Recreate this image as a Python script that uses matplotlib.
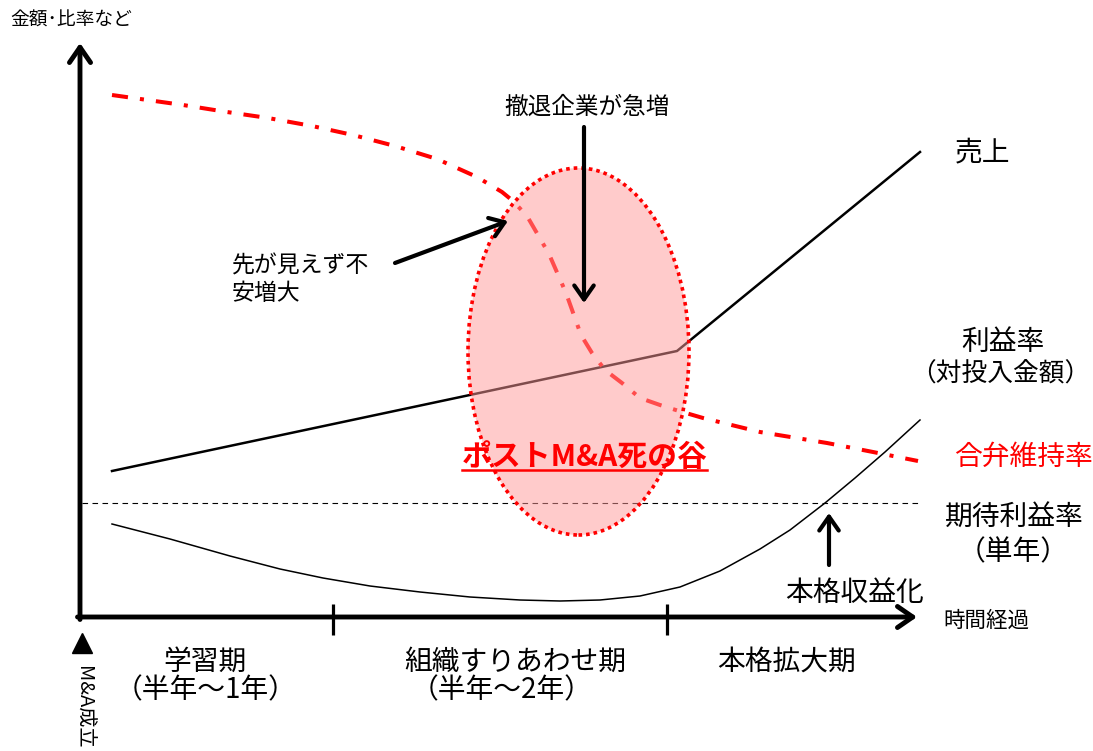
import numpy as np
import matplotlib
matplotlib.use('Agg')
import matplotlib.pyplot as plt
from matplotlib.patches import Ellipse

plt.rcParams['font.family'] = ['Noto Sans CJK JP', 'DejaVu Sans']

# 時間軸: 0 = M&A成立, 各曲線の値は概念的な大きさ
sales_x = [0.32, 5.97, 8.40]
sales_y = [1.46, 2.66, 4.65]

retention_x = [0.32, 1.03, 1.47, 1.88, 2.32, 2.73, 3.15, 3.57, 3.97, 4.22, 4.33, 4.47, 4.69,
               4.86, 5.01, 5.12, 5.25, 5.42, 5.60, 5.80, 5.99, 6.23, 6.80, 7.47, 7.93, 8.38]
retention_y = [5.22, 5.12, 5.05, 4.99, 4.91, 4.82, 4.71, 4.58, 4.40, 4.25, 4.16, 4.01, 3.63,
               3.24, 2.82, 2.64, 2.47, 2.34, 2.19, 2.12, 2.06, 1.99, 1.85, 1.74, 1.65, 1.56]

profit_x = [0.32, 0.90, 1.50, 2.00, 2.43, 2.90, 3.40, 3.90, 4.40, 4.80, 5.20, 5.60, 6.00,
            6.40, 6.80, 7.10, 7.45, 7.75, 8.05, 8.40]
profit_y = [0.93, 0.78, 0.61, 0.48, 0.39, 0.31, 0.25, 0.20, 0.17, 0.16, 0.17, 0.21, 0.30,
            0.46, 0.68, 0.87, 1.14, 1.39, 1.65, 1.97]

expected_rate = 1.14
expected_x = [0.02, 8.38]

period_bounds = [2.53, 5.87]
period_names = ['学習期', '組織すりあわせ期', '本格拡大期']
period_spans = ['（半年～1年）', '（半年～2年）', '']
period_centers = [1.25, 4.35, 7.07]
span_centers = [1.26, 4.22, 7.07]

valley_center = (4.985, 2.655)
valley_size = (2.21, 3.67)

fig = plt.figure(figsize=(10.93, 7.51), dpi=100)
ax = fig.add_axes([0, 0, 1, 1])
ax.set_xlim(-0.80, 10.13)
ax.set_ylim(-1.34, 6.17)
ax.axis('off')

# 軸（矢印）
axis_arrow = dict(arrowstyle='->,head_length=0.55,head_width=0.38', lw=3.5,
                  color='black', shrinkA=0, shrinkB=0, mutation_scale=20)
ax.annotate('', xy=(0, 5.74), xytext=(0, -0.025), arrowprops=axis_arrow)
ax.annotate('', xy=(8.37, 0), xytext=(-0.025, 0), arrowprops=axis_arrow)
for b in period_bounds:
    ax.plot([b, b], [0.13, -0.18], color='black', lw=2.3, solid_capstyle='butt')

# 曲線
ax.plot(sales_x, sales_y, color='black', lw=1.8, zorder=2)
ax.plot(retention_x, retention_y, color='red', lw=2.9,
        linestyle=(0, (4, 3, 1, 3)), zorder=2)
ax.plot(profit_x, profit_y, color='black', lw=1.1, zorder=2)
ax.plot(expected_x, [expected_rate, expected_rate], color='black', lw=0.8,
        linestyle=(0, (5, 4)), zorder=2)

# 死の谷
ax.add_patch(Ellipse(valley_center, valley_size[0], valley_size[1],
                     facecolor='#ff9999', alpha=0.5, edgecolor='none', zorder=3))
ax.add_patch(Ellipse(valley_center, valley_size[0], valley_size[1],
                     facecolor='none', edgecolor='red', lw=2.6,
                     linestyle=(0, (1, 1.1)), zorder=4))

# 注釈の矢印
note_arrow = dict(arrowstyle='->,head_length=0.5,head_width=0.35', lw=3,
                  color='black', shrinkA=0, shrinkB=0, mutation_scale=20)
ax.annotate('', xy=(4.28, 3.96), xytext=(3.15, 3.54), arrowprops=note_arrow, zorder=5)
ax.annotate('', xy=(5.04, 3.14), xytext=(5.04, 4.90), arrowprops=note_arrow, zorder=5)
ax.annotate('', xy=(7.49, 1.04), xytext=(7.49, 0.52), arrowprops=note_arrow, zorder=5)

# M&A成立
ax.plot([0.02], [-0.26], marker='^', markersize=15, color='black', clip_on=False)
ax.text(0.03, -0.49, 'M&A成立', rotation=-90, ha='center', va='top', fontsize=14.5)

# テキスト
big = 20
ax.text(-0.70, 5.97, '金額･比率など', ha='left', va='center', fontsize=13.5)
ax.text(8.63, -0.04, '時間経過', ha='left', va='center', fontsize=15.5)
ax.text(8.75, 4.65, '売上', ha='left', va='center', fontsize=big)
ax.text(9.23, 2.75, '利益率', ha='center', va='center', fontsize=big)
ax.text(9.20, 2.42, '（対投入金額）', ha='center', va='center', fontsize=18.5)
ax.text(9.435, 1.60, '合弁維持率', ha='center', va='center', fontsize=big, color='red')
ax.text(9.34, 0.99, '期待利益率', ha='center', va='center', fontsize=big)
ax.text(9.335, 0.65, '（単年）', ha='center', va='center', fontsize=big)
ax.text(7.75, 0.24, '本格収益化', ha='center', va='center', fontsize=big)
ax.text(1.52, 3.37, '先が見えず不\n安増大', ha='left', va='center', fontsize=16.5,
        linespacing=1.25)
ax.text(5.075, 5.10, '撤退企業が急増', ha='center', va='center', fontsize=17)

for name, cx in zip(period_names, period_centers):
    ax.text(cx, -0.45, name, ha='center', va='center', fontsize=big)
for span, cx in zip(period_spans, span_centers):
    if span:
        ax.text(cx, -0.73, span, ha='center', va='center', fontsize=big)

valley = ax.text(5.045, 1.60, 'ポストM&A死の谷', ha='center', va='center',
                 fontsize=21.5, fontweight='bold', color='red', zorder=6)

# 下線は文字の幅に合わせて引く
fig.canvas.draw()
bb = valley.get_window_extent().transformed(ax.transData.inverted())
ax.plot([bb.x0, bb.x1], [1.47, 1.47], color='red', lw=1.8, zorder=6)

fig.savefig('out.png', dpi=100)
